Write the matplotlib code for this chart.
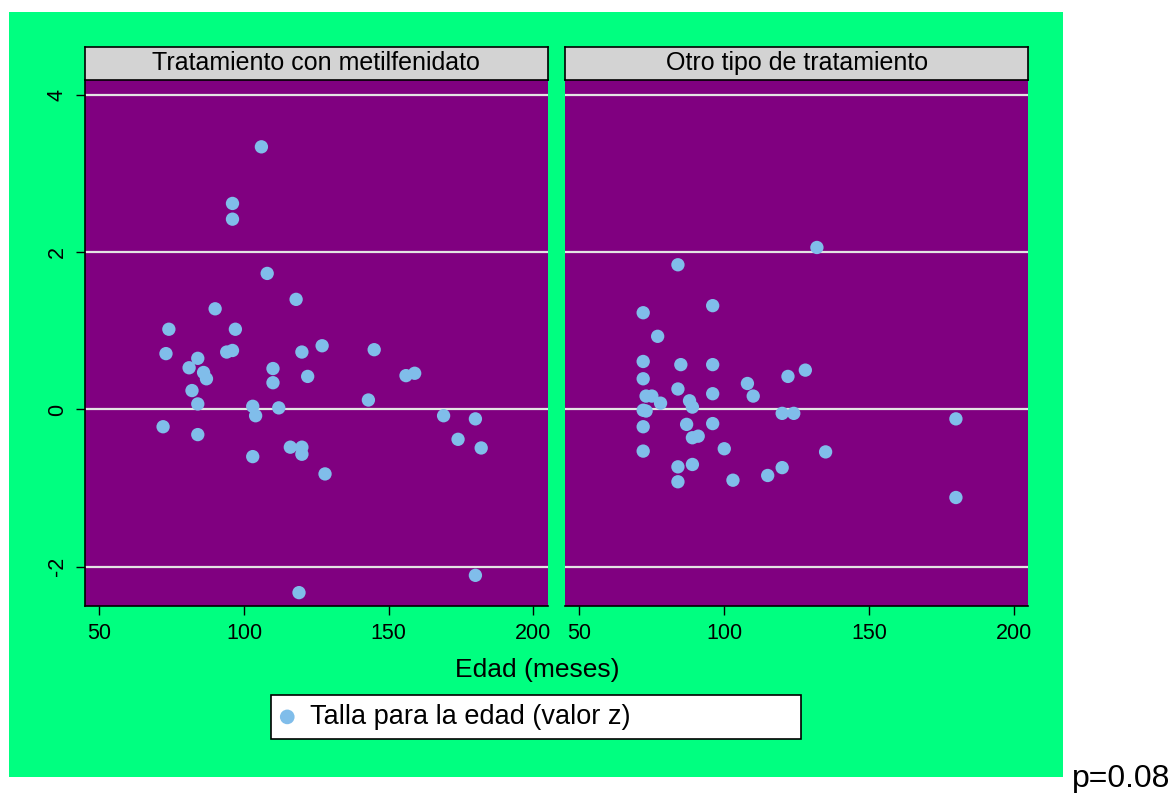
import matplotlib
matplotlib.use('Agg')
import matplotlib.pyplot as plt
from matplotlib.patches import Rectangle

plt.rcParams['font.family'] = ['Liberation Sans', 'DejaVu Sans']
plt.rcParams['axes.unicode_minus'] = False

# edad (meses) y talla para la edad (valor z)
metil_edad = [106, 96, 96, 108, 118, 90, 74, 97, 127, 73, 94, 96, 120, 145,
              84, 81, 110, 86, 87, 110, 122, 156, 159, 82, 143, 84, 103, 112,
              104, 169, 180, 72, 84, 174, 116, 120, 120, 182, 103, 128, 180, 119]
metil_z = [3.34, 2.62, 2.42, 1.73, 1.40, 1.28, 1.02, 1.02, 0.81, 0.71, 0.73, 0.75,
           0.73, 0.76, 0.65, 0.53, 0.52, 0.47, 0.39, 0.34, 0.42, 0.43, 0.46, 0.24,
           0.12, 0.07, 0.04, 0.02, -0.08, -0.08, -0.12, -0.22, -0.32, -0.38, -0.48,
           -0.48, -0.57, -0.49, -0.60, -0.82, -2.11, -2.33]

otro_edad = [132, 84, 96, 72, 77, 72, 85, 96, 128, 122, 72, 84, 108, 73, 75, 78,
             110, 96, 88, 89, 72, 73, 120, 124, 180, 72, 87, 96, 89, 91, 100, 135,
             72, 84, 89, 120, 115, 84, 103, 180]
otro_z = [2.06, 1.84, 1.32, 1.23, 0.93, 0.61, 0.57, 0.57, 0.50, 0.42, 0.39, 0.26,
          0.33, 0.17, 0.17, 0.08, 0.17, 0.20, 0.11, 0.03, -0.01, -0.02, -0.05, -0.05,
          -0.12, -0.22, -0.19, -0.18, -0.36, -0.34, -0.50, -0.54, -0.53, -0.73,
          -0.70, -0.74, -0.84, -0.92, -0.90, -1.12]

paneles = ['Tratamiento con metilfenidato', 'Otro tipo de tratamiento']
xticks = [50, 100, 150, 200]
yticks = [-2, 0, 2, 4]

W, H = 1176, 793
fig = plt.figure(figsize=(W/100, H/100), dpi=100)
fig.patch.set_facecolor('white')

def fx(px): return px / W
def fy(py): return 1 - py / H

# fondo verde
fig.patches.append(Rectangle((fx(9), fy(776.7)), fx(1063.3) - fx(9), (776.7 - 12) / H,
                             transform=fig.transFigure, facecolor='#00ff80',
                             edgecolor='none', zorder=-5))

purple = '#800080'
dot = '#80bdea'
lefts = [85, 565]
widths = [462.7, 463.3]
datos = [(metil_edad, metil_z), (otro_edad, otro_z)]

sc = None
for i in range(2):
    ax = fig.add_axes([fx(lefts[i]), fy(606), widths[i] / W, (606 - 80) / H])
    ax.set_facecolor(purple)
    x, y = datos[i]
    sc = ax.scatter(x, y, s=92, color=dot, edgecolors='none', zorder=3,
                    label='Talla para la edad (valor z)')
    ax.set_xlim(45, 205)
    ax.set_ylim(-2.5, 4.19)
    ax.set_xticks(xticks)
    ax.set_yticks(yticks)
    for yv in yticks:
        ax.axhline(yv, color='#e4e4e4', lw=1.6, zorder=1)
    for s in ['top', 'right']:
        ax.spines[s].set_visible(False)
    ax.spines['bottom'].set_linewidth(1.2)
    ax.spines['left'].set_linewidth(1.2)
    ax.tick_params(axis='x', length=6.5, width=1, labelsize=15.5, pad=6)
    if i == 0:
        ax.tick_params(axis='y', length=6.5, width=1, labelsize=15.5, pad=6)
        for lab in ax.get_yticklabels():
            lab.set_rotation(90)
            lab.set_va('center')
    else:
        ax.spines['left'].set_visible(False)
        ax.tick_params(axis='y', left=False, labelleft=False)

    hx = fig.add_axes([fx(lefts[i]), fy(80), widths[i] / W, (80 - 46.7) / H])
    hx.set_facecolor('#d3d3d3')
    hx.set_xticks([]); hx.set_yticks([])
    for s in hx.spines.values():
        s.set_linewidth(1.2)
        s.set_color('black')
    hx.text(0.5, 0.30, paneles[i], ha='center', va='baseline', fontsize=18,
            transform=hx.transAxes)

fig.text(fx(537), fy(670), 'Edad (meses)', ha='center', va='center', fontsize=19)

leg = fig.legend(handles=[sc], labels=['Talla para la edad (valor z)'],
                 loc='center', mode='expand',
                 bbox_to_anchor=(fx(271), fy(742), (801 - 271) / W, (742 - 692) / H),
                 fontsize=19.5, frameon=True, fancybox=False, borderpad=0.35,
                 handlelength=0.5, handletextpad=0.6, borderaxespad=0,
                 markerscale=1.1, framealpha=1)
leg.get_frame().set_edgecolor('black')
leg.get_frame().set_linewidth(1.2)
leg.get_frame().set_facecolor('white')

fig.text(fx(1072), fy(786.7), 'p=0.08', ha='left', va='baseline', fontsize=23)

fig.savefig('out.png', dpi=100, facecolor=fig.get_facecolor())
